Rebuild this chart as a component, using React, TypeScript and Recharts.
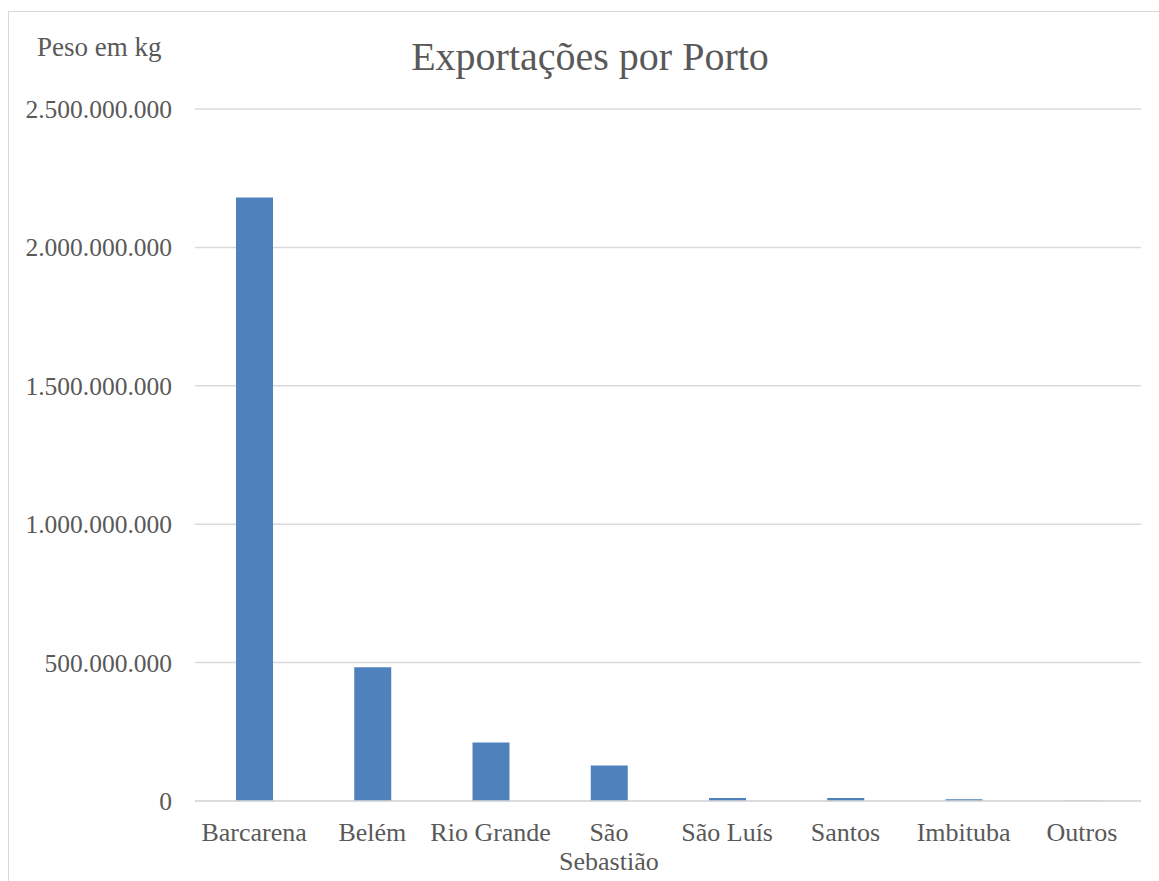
import React from 'react';
import { BarChart, Bar, XAxis, YAxis, CartesianGrid } from 'recharts';

const ports = ['Barcarena', 'Belém', 'Rio Grande', 'São Sebastião', 'São Luís', 'Santos', 'Imbituba', 'Outros'];
const weightKg = [2180000000, 483000000, 211000000, 128000000, 11000000, 11000000, 6000000, 1000000];
const yTicks = [0, 500000000, 1000000000, 1500000000, 2000000000, 2500000000];

const data = ports.map((port, i) => ({ port, peso: weightKg[i] }));

const FONT = '"Liberation Serif", "DejaVu Serif", serif';
const GRAY = '#595959';

const formatKg = (v: number) => v.toLocaleString('pt-BR');

function PortTick({ x, y, payload }: any) {
  const label: string = payload.value;
  const lines = label.length > 11 ? label.split(' ') : [label];
  return (
    <text x={x} y={y} textAnchor="middle" fill={GRAY} fontSize={26} fontFamily={FONT}>
      {lines.map((line, i) => (
        <tspan key={i} x={x} dy={i === 0 ? 32 : 29}>
          {line}
        </tspan>
      ))}
    </text>
  );
}

export default function App() {
  return (
    <div style={{ position: 'absolute', left: 0, top: 0, width: 1159, height: 881, background: '#fff', overflow: 'hidden' }}>
      <div
        style={{
          position: 'absolute',
          left: 8,
          top: 11,
          width: 1170,
          height: 900,
          border: '1px solid #d9d9d9',
        }}
      />
      <div
        style={{
          position: 'absolute',
          left: 0,
          width: 1180,
          top: 35,
          textAlign: 'center',
          fontFamily: FONT,
          fontSize: 40,
          color: GRAY,
          lineHeight: '44px',
        }}
      >
        Exportações por Porto
      </div>
      <div
        style={{
          position: 'absolute',
          left: 37,
          top: 32,
          fontFamily: FONT,
          fontSize: 27,
          color: GRAY,
          lineHeight: '30px',
        }}
      >
        Peso em kg
      </div>
      <div style={{ position: 'absolute', left: 0, top: 0 }}>
        <BarChart
          width={1159}
          height={881}
          data={data}
          margin={{ top: 109, right: 18, bottom: 50, left: 15 }}
        >
          <CartesianGrid vertical={false} stroke="#d9d9d9" strokeWidth={1.5} />
          <XAxis
            dataKey="port"
            axisLine={{ stroke: '#d9d9d9', strokeWidth: 1.5 }}
            tickLine={false}
            interval={0}
            tick={<PortTick />}
          />
          <YAxis
            width={180}
            domain={[0, 2500000000]}
            ticks={yTicks}
            tickFormatter={formatKg}
            axisLine={false}
            tickLine={false}
            tickMargin={17}
            tick={{ fill: GRAY, fontSize: 25.5, fontFamily: FONT }}
          />
          <Bar dataKey="peso" fill="#4f81bd" barSize={37} isAnimationActive={false} />
        </BarChart>
      </div>
    </div>
  );
}
